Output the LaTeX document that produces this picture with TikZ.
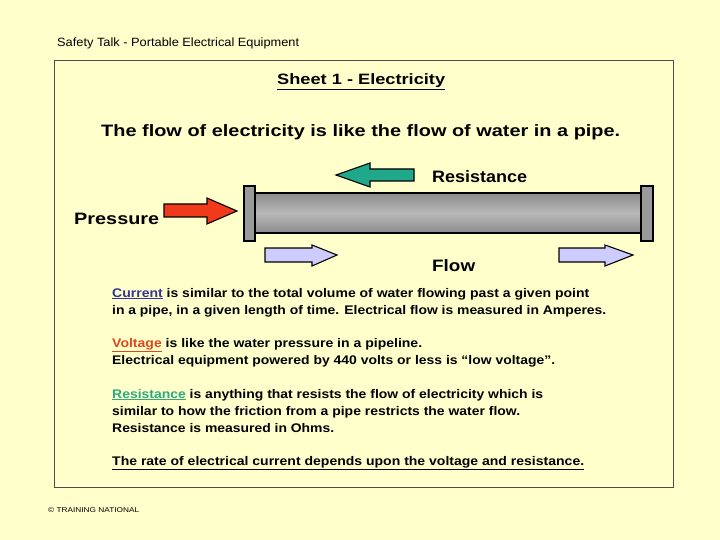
\documentclass[tikz,border=0pt]{standalone}
\usepackage{fontspec}
\usepackage{graphicx}
\setmainfont{Liberation Sans}
\definecolor{bg}{HTML}{FFFFCC}
\definecolor{arrgreen}{HTML}{1FA88A}
\definecolor{arrred}{HTML}{F03A1A}
\definecolor{arrflow}{HTML}{CCCCFF}
\definecolor{curblue}{HTML}{333399}
\definecolor{voltred}{HTML}{E0461A}
\definecolor{resgreen}{HTML}{2EAA80}
\definecolor{pipedark}{HTML}{8C8C8C}
\definecolor{pipelight}{HTML}{B8B8B8}
\definecolor{flange}{HTML}{9A9A9A}
\newcommand{\myul}[1]{\underline{#1}}
\newcommand{\fitw}[2]{\resizebox{#1pt}{\height}{#2}}
\begin{document}
\begin{tikzpicture}[x=1pt,y=-1pt,
  arrowshape/.style={draw=black,line width=1.1pt,line join=miter},
  txt/.style={anchor=base west,inner sep=0pt},
  bodytext/.style={txt,font=\fontsize{12.5}{14}\selectfont\bfseries},
  lbl/.style={txt,font=\fontsize{16.5}{18}\selectfont\bfseries}]
\useasboundingbox (0,0) rectangle (720,540);
\fill[bg] (0,0) rectangle (720,540);
\draw[black!70,line width=0.8pt] (54,60) rectangle (673,487);
\node[txt,font=\fontsize{12}{13}\selectfont] (hdr) at (57,47) {\fitw{242}{Safety Talk - Portable Electrical Equipment}};
\node[txt,font=\fontsize{15}{17}\selectfont\bfseries] (sheet) at (277,85) {\fitw{168}{\myul{Sheet 1 - Electricity}}};
\node[txt,font=\fontsize{16.5}{18}\selectfont\bfseries] (intro) at (101,137) {\fitw{519}{The flow of electricity is like the flow of water in a pipe.}};
% pipe
\shade[top color=pipedark,bottom color=pipedark,middle color=pipelight] (255,193) rectangle (641,233);
\draw[line width=1.4pt] (255,193) rectangle (641,233);
\draw[fill=flange,line width=1.2pt] (244,186) rectangle (255,241);
\draw[fill=flange,line width=1.2pt] (641,186) rectangle (653,241);
% resistance arrow
\draw[arrowshape,fill=arrgreen] (336,175) -- (370,163) -- (370,169) -- (414,169) -- (414,181) -- (370,181) -- (370,187) -- cycle;
\node[lbl] (res) at (432,183) {\fitw{95}{Resistance}};
% pressure arrow
\draw[arrowshape,fill=arrred] (237,211) -- (207,198) -- (207,204) -- (164,204) -- (164,217) -- (207,217) -- (207,224) -- cycle;
\node[lbl] (press) at (74,225) {\fitw{85}{Pressure}};
% flow arrows
\draw[arrowshape,fill=arrflow] (337,255) -- (312,245) -- (312,248) -- (265,248) -- (265,262) -- (312,262) -- (312,266) -- cycle;
\draw[arrowshape,fill=arrflow] (633,255) -- (605,245) -- (605,248) -- (559,248) -- (559,262) -- (605,262) -- (605,266) -- cycle;
\node[lbl] (flow) at (432,271) {\fitw{43}{Flow}};
% body text
\node[bodytext] (p1a) at (112,297) {\fitw{477}{\textcolor{curblue}{\myul{Current}} is similar to the total volume of water flowing past a given point}};
\node[bodytext] (p1b) at (112,314) {\fitw{494}{in a pipe, in a given length of time. Electrical flow is measured in Amperes.}};
\node[bodytext] (p2a) at (112,347) {\fitw{310}{\textcolor{voltred}{\myul{Voltage}} is like the water pressure in a pipeline.}};
\node[bodytext] (p2b) at (112,364) {\fitw{443}{Electrical equipment powered by 440 volts or less is “low voltage”.}};
\node[bodytext] (p3a) at (112,398) {\fitw{431}{\textcolor{resgreen}{\myul{Resistance}} is anything that resists the flow of electricity which is}};
\node[bodytext] (p3b) at (112,415) {\fitw{408}{similar to how the friction from a pipe restricts the water flow.}};
\node[bodytext] (p3c) at (112,432) {\fitw{222}{Resistance is measured in Ohms.}};
\node[bodytext] (p4) at (112,465) {\fitw{472}{\myul{The rate of electrical current depends upon the voltage and resistance.}}};
\node[txt,font=\fontsize{7}{8}\selectfont] (foot) at (48,512) {\fitw{91}{© TRAINING NATIONAL}};
\end{tikzpicture}
\end{document}
